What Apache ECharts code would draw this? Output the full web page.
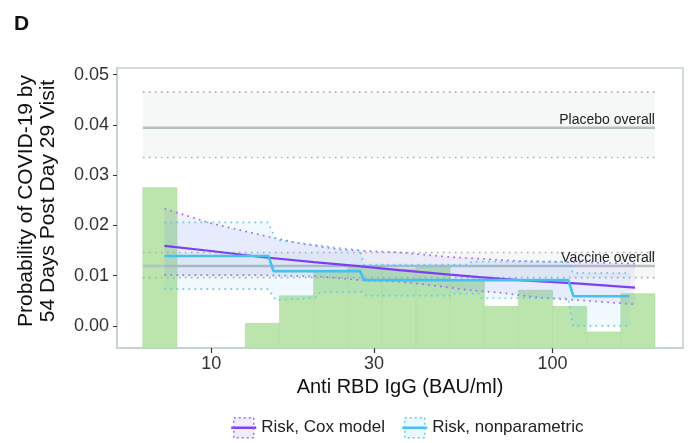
<!DOCTYPE html>
<html>
<head>
<meta charset="utf-8">
<script src="https://cdn.jsdelivr.net/npm/echarts@6/dist/echarts.min.js"></script>
<style>
html, body { margin: 0; padding: 0; background: #fff; }
#c2 { width: 694px; height: 443px; }
</style>
</head>
<body>
<div id="c2"></div>
<script>
// histogram of antibody levels: bin edges (BAU/ml) and bar tops on the risk scale
var binEdges = [6.31, 7.94, 10, 12.59, 15.85, 19.95, 25.12, 31.62, 39.81, 50.12, 63.1, 79.43, 100, 125.9, 158.5, 199.5];
var binHeights = [0.0275, null, null, 0.0005, 0.006, 0.0107, 0.0117, 0.0113, 0.0117, 0.0091, 0.0039, 0.0071, 0.0039, -0.0012, 0.0064];

// overall risk [estimate, lower, upper] and the x range they are drawn over
var placeboOverall = [0.0394, 0.0335, 0.0465];
var vaccineOverall = [0.0119, 0.0096, 0.0146];
var overallRange = [6.31, 199.5];

// Cox model curve and its confidence limits
var coxX = [7.3, 10, 14, 20, 27, 35.6, 50, 61, 80, 120, 174.4];
var coxY = [0.0159, 0.0149, 0.0137, 0.0127, 0.0119, 0.0111, 0.0102, 0.0097, 0.0091, 0.0084, 0.0076];
var coxUpX = [7.3, 10, 14.8, 18.2, 23.7, 35.6, 50.1, 80.3, 174.4];
var coxUpY = [0.0233, 0.0204, 0.0177, 0.0164, 0.0152, 0.0146, 0.0137, 0.0129, 0.0124];
var coxLoX = [7.3, 14, 20.9, 27.3, 35.8, 43.9, 57.4, 70.2, 80.3, 91.9, 120, 174.4];
var coxLoY = [0.0101, 0.0101, 0.0098, 0.0091, 0.0088, 0.0081, 0.0071, 0.0066, 0.0061, 0.0056, 0.0051, 0.0043];

// nonparametric step curve and its confidence limits
var npX = [7.3, 14.72, 15.22, 27.31, 28.05, 111.2, 115.1, 167.9];
var npY = [0.0139, 0.0139, 0.0109, 0.0109, 0.0091, 0.0091, 0.0059, 0.0059];
var npUpX = [7.3, 14.66, 15.5, 18.2, 23.7, 27.3, 28.0, 57, 58, 111, 114.8, 168.7];
var npUpY = [0.0206, 0.0206, 0.0171, 0.0165, 0.0155, 0.0151, 0.0122, 0.0122, 0.0128, 0.0128, 0.0105, 0.0105];
var npLoX = [7.3, 14.66, 15.5, 20.2, 20.9, 27.7, 28.3, 50.1, 50.5, 61.3, 62, 111, 114.8, 168.7];
var npLoY = [0.0073, 0.0073, 0.0051, 0.0056, 0.0067, 0.0067, 0.006, 0.006, 0.0064, 0.0064, 0.0055, 0.0055, 0.0, 0.0];

var xTicks = [10, 30, 100];
var yTicks = [0, 0.01, 0.02, 0.03, 0.04, 0.05];

var Y_MIN = -0.0044, Y_MAX = 0.0513;
var PURPLE = '#7e3ff2', CYAN = '#45c1ee', GREY = '#b3c1c1', GREY_DOT = '#a6b3b3';
var FRAME = '#c3d0d0';

function pairs(xs, ys) {
    return xs.map(function (x, i) { return [x, ys[i]]; });
}

// closed polygon between an upper and a lower limit
function band(name, upX, upY, loX, loY, fill, z) {
    var pts = pairs(upX, upY).concat(pairs(loX, loY).reverse());
    return {
        name: name, type: 'custom', silent: true, z: z,
        data: pts,
        renderItem: function (params, api) {
            if (params.dataIndex !== 0) return;
            return {
                type: 'polygon',
                shape: { points: pts.map(function (p) { return api.coord(p); }) },
                style: { fill: fill }
            };
        }
    };
}

function dotted(name, xs, ys, color, z) {
    return {
        name: name, type: 'line', data: pairs(xs, ys), symbol: 'none', silent: true, z: z,
        lineStyle: { color: color, width: 1.7, type: [1.7, 4.3] }
    };
}

function overall(name, vals, label) {
    var x0 = overallRange[0], x1 = overallRange[1];
    return [
        {
            name: name, type: 'line', symbol: 'none', silent: true, z: 3,
            data: [[x0, vals[0]], [x1, vals[0]]],
            lineStyle: { color: GREY, width: 2.5 },
            endLabel: {
                show: true, formatter: label, align: 'right', verticalAlign: 'bottom',
                distance: 0, offset: [0, -1], fontSize: 14, color: '#222', fontFamily: 'Liberation Sans'
            },
            markArea: {
                silent: true,
                itemStyle: { color: 'rgba(222,230,230,0.28)' },
                data: [[{ coord: [x0, vals[1]] }, { coord: [x1, vals[2]] }]]
            }
        },
        dotted(name + ' lo', [x0, x1], [vals[1], vals[1]], GREY_DOT, 3),
        dotted(name + ' hi', [x0, x1], [vals[2], vals[2]], GREY_DOT, 3)
    ];
}

var histData = [];
for (var i = 0; i < binHeights.length; i++) {
    if (binHeights[i] !== null) histData.push([binEdges[i], binEdges[i + 1], binHeights[i]]);
}

var chart = echarts.init(document.getElementById('c2'));

var series = [
    {
        name: 'hist', type: 'custom', silent: true, z: 1,
        data: histData,
        encode: { x: [0, 1], y: 2 },
        renderItem: function (params, api) {
            var a = api.coord([api.value(0), Y_MIN]);
            var b = api.coord([api.value(1), api.value(2)]);
            return {
                type: 'rect',
                shape: { x: a[0], y: b[1], width: b[0] - a[0], height: a[1] - b[1] },
                style: { fill: '#bbe5ac', stroke: '#acdc9c', lineWidth: 0.6 }
            };
        }
    }
];
series = series.concat(overall('placebo', placeboOverall, 'Placebo overall'));
series = series.concat(overall('vaccine', vaccineOverall, 'Vaccine overall'));
series.push(band('npBand', npUpX, npUpY, npLoX, npLoY, 'rgba(90,195,240,0.09)', 4));
series.push(band('coxBand', coxUpX, coxUpY, coxLoX, coxLoY, 'rgba(130,100,240,0.09)', 4));
series.push(dotted('coxUp', coxUpX, coxUpY, '#9b6df5', 5));
series.push(dotted('coxLo', coxLoX, coxLoY, '#9b6df5', 5));
series.push(dotted('npUp', npUpX, npUpY, '#5fcdf2', 5));
series.push(dotted('npLo', npLoX, npLoY, '#5fcdf2', 5));
series.push({
    name: 'Risk, Cox model', type: 'line', data: pairs(coxX, coxY),
    symbol: 'rect', showSymbol: false, silent: true, z: 6,
    lineStyle: { color: PURPLE, width: 2.2 }, itemStyle: { color: PURPLE }
});
series.push({
    name: 'Risk, nonparametric', type: 'line', data: pairs(npX, npY),
    symbol: 'rect', showSymbol: false, silent: true, z: 6,
    lineStyle: { color: CYAN, width: 2.6 }, itemStyle: { color: CYAN }
});

var option = {
    animation: false,
    textStyle: { fontFamily: 'Liberation Sans' },
    title: {
        text: 'D', left: 9, top: 9,
        textStyle: { fontSize: 21, fontWeight: 'bold', color: '#111', fontFamily: 'Liberation Sans' }
    },
    grid: {
        left: 117, top: 68, right: 11, bottom: 95,
        show: true, borderColor: FRAME, borderWidth: 1.5, backgroundColor: '#fff'
    },
    legend: {
        left: 225, top: 412,
        itemWidth: 25, itemHeight: 25, itemGap: 16,
        textStyle: { fontSize: 17, color: '#222', fontFamily: 'Liberation Sans' },
        data: [
            {
                name: 'Risk, Cox model',
                itemStyle: { color: 'rgba(130,100,240,0.12)', borderColor: '#9b6df5', borderWidth: 1.5, borderType: [2, 3] },
                lineStyle: { color: PURPLE, width: 2.5 }
            },
            {
                name: 'Risk, nonparametric',
                itemStyle: { color: 'rgba(90,195,240,0.12)', borderColor: '#5fcdf2', borderWidth: 1.5, borderType: [2, 3] },
                lineStyle: { color: CYAN, width: 2.5 }
            }
        ]
    },
    xAxis: {
        type: 'log', logBase: 10, min: 5.3, max: 241,
        axisLine: { show: true, onZero: false, lineStyle: { color: FRAME, width: 1.5 } },
        axisTick: {
            show: true, length: 5, lineStyle: { color: '#333', width: 1.2 },
            // tick positions given both raw and in log space; whichever falls outside the scale extent is dropped
            customValues: xTicks.concat(xTicks.map(function (v) { return Math.log10(v); }))
        },
        axisLabel: {
            customValues: xTicks, fontSize: 18, color: '#333', margin: 7,
            formatter: function (v) { return String(Math.round(v)); }
        },
        splitLine: { show: false },
        minorTick: { show: false },
        name: 'Anti RBD IgG (BAU/ml)', nameLocation: 'middle', nameGap: 29,
        nameTextStyle: { fontSize: 20, color: '#111' }
    },
    yAxis: {
        type: 'value', min: Y_MIN, max: Y_MAX,
        axisLine: { show: true, onZero: false, lineStyle: { color: FRAME, width: 1.5 } },
        axisTick: { show: true, length: 4, lineStyle: { color: '#333', width: 1 }, customValues: yTicks },
        axisLabel: {
            customValues: yTicks, fontSize: 18, color: '#333', margin: 8,
            formatter: function (v) { return v.toFixed(2); }
        },
        splitLine: { show: false },
        name: 'Probability of COVID-19 by\n54 Days Post Day 29 Visit',
        nameLocation: 'middle', nameGap: 58, nameRotate: 90,
        nameTextStyle: { fontSize: 21, lineHeight: 22, color: '#111', padding: [0, 0, 0, 14] }
    },
    series: series
};
chart.setOption(option);
</script>
</body>
</html>
